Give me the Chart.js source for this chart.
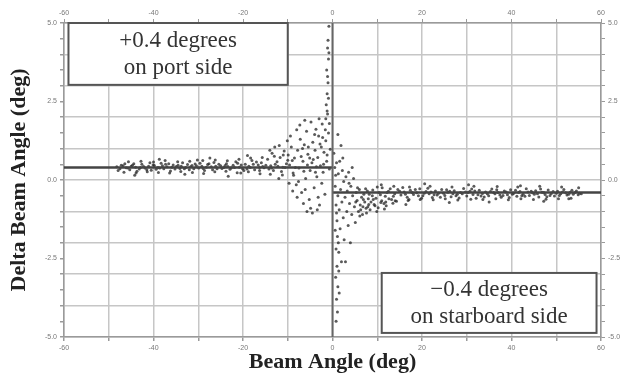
<!DOCTYPE html>
<html>
<head>
<meta charset="utf-8">
<script src="https://cdn.jsdelivr.net/npm/chart.js@4"></script>
<style>
    body { margin: 0; background: #fff; }
    canvas { display: block; }
</style>
</head>
<body>
<canvas id="beamChart" width="630" height="377"></canvas>
<script>
// --- Data ---

// port side: beam angle (deg), delta beam angle (deg)
const portBand = [
    [-48.2,0.42],[-47.5,0.36],[-46.8,0.45],[-46.1,0.39],[-45.3,0.33],[-44.7,0.47],[-44.0,0.41],[-43.2,0.35],
    [-42.6,0.50],[-41.9,0.38],[-41.1,0.44],[-40.5,0.31],[-39.8,0.46],[-39.0,0.40],[-38.3,0.53],[-37.7,0.36],
    [-37.0,0.42],[-36.2,0.29],[-35.6,0.48],[-34.9,0.43],[-34.1,0.37],[-33.5,0.55],[-32.8,0.40],[-32.0,0.33],
    [-31.4,0.46],[-30.7,0.51],[-29.9,0.38],[-29.2,0.44],[-28.6,0.30],[-27.9,0.49],[-27.1,0.42],[-26.5,0.56],
    [-25.8,0.36],[-25.0,0.45],[-24.3,0.40],[-23.7,0.52],[-22.9,0.34],[-22.2,0.47],[-21.6,0.58],[-20.8,0.41],
    [-20.1,0.36],[-19.5,0.50],[-18.7,0.44],[-18.0,0.62],[-17.4,0.33],[-16.6,0.48],[-15.9,0.55],[-15.3,0.39],
    [-14.5,0.66],[-13.8,0.45],[-13.2,0.30],[-12.4,0.58],[-11.7,0.72],[-11.1,0.41],[-10.3,0.52],
    [-47.9,0.30],[-46.4,0.52],[-45.0,0.44],[-43.7,0.28],[-42.2,0.43],[-40.8,0.55],[-39.4,0.34],[-38.0,0.45],
    [-36.6,0.52],[-35.2,0.35],[-33.8,0.44],[-32.4,0.49],[-31.0,0.36],[-29.6,0.53],[-28.2,0.41],[-26.8,0.33],
    [-25.4,0.50],[-24.0,0.46],[-22.6,0.39],[-21.2,0.53],[-19.8,0.30],[-18.4,0.40],[-17.0,0.57],[-15.6,0.43],
    [-14.2,0.35],[-12.8,0.50],[-11.4,0.27],[-10.0,0.63],
    [-47.2,0.47],[-45.7,0.38],[-44.4,0.52],[-42.9,0.40],[-41.5,0.33],[-40.1,0.48],[-38.6,0.38],[-37.3,0.50],
    [-35.9,0.41],[-34.5,0.47],[-33.1,0.36],[-31.7,0.42],[-30.4,0.45],[-28.9,0.37],[-27.6,0.52],[-26.1,0.44],
    [-24.7,0.37],[-23.4,0.43],[-21.9,0.40],[-20.4,0.48],[-19.1,0.35],[-17.7,0.50],[-16.3,0.40],[-14.9,0.47],
    [-13.6,0.38],[-12.2,0.44],[-10.6,0.40],
    [-46.6,0.25],[-43.9,0.22],[-41.4,0.26],[-38.9,0.24],[-36.4,0.22],[-33.9,0.27],[-31.3,0.24],[-28.8,0.21],
    [-26.3,0.26],[-23.8,0.28],[-21.3,0.23],[-18.8,0.26],[-16.3,0.30],[-13.9,0.18],[-11.2,0.16],
    [-45.6,0.58],[-42.8,0.60],[-40.0,0.57],[-37.4,0.62],[-34.6,0.58],[-31.9,0.60],[-29.0,0.62],[-26.2,0.64],
    [-23.5,0.61],[-20.9,0.66],[-18.3,0.70],[-15.7,0.72],[-13.0,0.76],[-11.0,0.80],
    [-44.2,0.15],[-38.7,0.66],[-33.0,0.18],[-27.4,0.70],[-23.3,0.12],[-19.0,0.78],[-16.2,0.20],[-13.5,0.85],
    [-12.0,0.05],[-10.8,0.92],[-20.5,0.22],[-30.2,0.64]
];

const portNear = [
    [-9.6,0.48],[-9.2,1.05],[-8.8,0.22],[-8.5,0.70],[-8.1,-0.15],[-7.8,0.95],[-7.5,0.38],[-7.2,1.30],
    [-6.9,-0.40],[-6.6,0.60],[-6.3,1.12],[-6.0,0.05],[-5.8,1.55],[-5.5,0.82],[-5.2,-0.62],[-5.0,0.30],
    [-4.8,1.85],[-4.6,0.55],[-4.4,1.20],[-4.1,-0.25],[-3.9,0.95],[-3.7,1.62],[-3.5,0.10],[-3.3,0.72],
    [-3.1,1.40],[-2.9,-0.80],[-2.7,0.45],[-2.5,1.05],[-2.3,1.78],[-2.1,0.25],[-1.9,0.88],[-1.7,-0.45],
    [-1.5,1.25],[-1.3,0.60],[-1.1,2.10],[-0.9,1.50],[-0.7,0.35],[-0.5,0.98],
    [-9.0,0.62],[-8.3,0.40],[-7.0,0.75],[-6.4,0.28],[-5.6,0.48],[-4.3,0.65],[-3.6,0.42],[-2.8,1.15],
    [-2.0,0.50],[-1.2,0.80],[-7.6,-0.05],[-6.1,-0.30],[-4.9,-0.90],[-3.2,-0.55],[-2.4,-0.10],[-5.4,1.05],
    [-4.0,1.45],[-3.0,1.95],[-2.2,1.35],[-1.6,1.60],[-9.9,0.80],[-8.7,0.15],[-6.7,1.00],[-5.1,0.70],[-3.8,0.25],
    [-14.0,0.95],[-12.9,1.05],[-11.9,1.10],[-10.1,1.25],[-9.4,1.40],[-8.0,1.60],[-7.3,1.75],[-6.2,1.90],
    [-9.7,-0.10],[-8.9,-0.35],[-7.9,-0.55],[-6.5,-0.75],[-5.7,-1.00],[-4.5,-1.05],[-3.4,-0.95],
    [-1.4,2.40],[-1.2,2.75],[-1.0,3.10],[-1.3,3.50],[-0.9,3.85],[-1.1,4.20],[-1.0,4.45],[-0.8,4.90],
    [-1.2,2.20],[-0.9,2.60],[-1.5,1.95],[-0.7,1.80],[-1.1,3.30],[-0.8,4.05]
];

// starboard side
const starBand = [
    [8.2,-0.45],[9.0,-0.32],[9.7,-0.58],[10.4,-0.40],[11.1,-0.25],[11.8,-0.52],[12.5,-0.36],[13.2,-0.62],
    [13.9,-0.44],[14.6,-0.30],[15.3,-0.48],[16.0,-0.38],[16.7,-0.55],[17.4,-0.33],[18.1,-0.46],[18.8,-0.41],
    [19.5,-0.28],[20.2,-0.50],[20.9,-0.37],[21.6,-0.44],[22.3,-0.56],[23.0,-0.35],[23.7,-0.42],[24.4,-0.30],
    [25.1,-0.49],[25.8,-0.39],[26.5,-0.53],[27.2,-0.34],[27.9,-0.45],[28.6,-0.40],[29.3,-0.27],[30.0,-0.51],
    [30.7,-0.36],[31.4,-0.46],[32.1,-0.58],[32.8,-0.33],[33.5,-0.43],[34.2,-0.38],[34.9,-0.50],[35.6,-0.29],
    [36.3,-0.44],[37.0,-0.40],[37.7,-0.55],[38.4,-0.35],[39.1,-0.47],[39.8,-0.31],[40.5,-0.42],[41.2,-0.52],
    [41.9,-0.37],[42.6,-0.45],[43.3,-0.28],[44.0,-0.49],[44.7,-0.41],[45.4,-0.34],[46.1,-0.54],[46.8,-0.39],
    [47.5,-0.46],[48.2,-0.32],[48.9,-0.43],[49.6,-0.51],[50.3,-0.36],[51.0,-0.44],[51.7,-0.30],[52.4,-0.48],
    [53.1,-0.39],[53.8,-0.45],[54.5,-0.35],[55.2,-0.42],
    [8.6,-0.70],[10.0,-0.22],[11.5,-0.75],[12.9,-0.28],[14.3,-0.68],[15.7,-0.24],[17.1,-0.62],[18.5,-0.30],
    [19.9,-0.58],[21.3,-0.26],[22.7,-0.47],[24.1,-0.55],[25.5,-0.31],[26.9,-0.44],[28.3,-0.57],[29.7,-0.38],
    [31.1,-0.29],[32.5,-0.47],[33.9,-0.54],[35.3,-0.37],[36.7,-0.31],[38.1,-0.49],[39.5,-0.56],[40.9,-0.33],
    [42.3,-0.50],[43.7,-0.38],[45.1,-0.45],[46.5,-0.29],[47.9,-0.53],[49.3,-0.37],[50.7,-0.49],[52.1,-0.41],
    [53.5,-0.33],[54.9,-0.47],
    [8.9,-0.50],[10.7,-0.47],[12.2,-0.40],[13.6,-0.52],[15.0,-0.36],[16.3,-0.45],[17.8,-0.40],[19.2,-0.50],
    [20.5,-0.42],[22.0,-0.38],[23.4,-0.48],[24.8,-0.42],[26.2,-0.36],[27.6,-0.50],[29.0,-0.44],[30.3,-0.40],
    [31.8,-0.35],[33.2,-0.51],[34.6,-0.44],[36.0,-0.40],[37.4,-0.48],[38.8,-0.38],[40.2,-0.45],[41.6,-0.40],
    [43.0,-0.52],[44.4,-0.36],[45.8,-0.44],[47.2,-0.40],[48.6,-0.49],[50.0,-0.42],[51.4,-0.38],[52.8,-0.45],
    [54.2,-0.40],[55.6,-0.44],
    [9.5,-0.82],[11.9,-0.70],[14.0,-0.66],[16.9,-0.65],[19.6,-0.62],[22.5,-0.63],[25.2,-0.60],[28.0,-0.64],
    [30.9,-0.61],[33.6,-0.62],[36.5,-0.60],[39.3,-0.63],[42.1,-0.60],[44.9,-0.62],[47.7,-0.61],[50.5,-0.60],
    [53.3,-0.58],
    [10.9,-0.15],[13.7,-0.20],[17.2,-0.22],[21.8,-0.20],[26.7,-0.22],[31.6,-0.20],[36.8,-0.21],[41.4,-0.22],
    [46.3,-0.20],[51.2,-0.22],[55.0,-0.25],
    [16.4,-0.78],[20.6,-0.12],[26.1,-0.72],[30.4,-0.15],[35.0,-0.70],[42.0,-0.18],[47.2,-0.68],[52.8,-0.60]
];

const starNear = [
    [0.3,0.85],[0.5,0.40],[0.6,-0.20],[0.8,-0.80],[0.7,0.15],[1.0,-1.30],[0.9,0.55],[1.2,-0.50],
    [1.1,-1.80],[1.3,0.20],[1.4,-2.30],[1.5,-0.95],[1.6,0.60],[1.7,-1.55],[1.8,-0.30],[2.0,-2.60],
    [2.1,-0.70],[2.2,0.30],[2.4,-1.20],[2.5,-0.05],[2.6,-1.90],[2.8,-0.55],[2.9,-2.60],[3.0,0.10],
    [3.2,-1.00],[3.3,-0.35],[3.5,-1.45],[3.6,0.25],[3.8,-0.75],[4.0,-2.00],[4.1,-0.20],[4.3,-1.10],
    [4.5,-0.50],[4.7,0.05],[4.9,-0.85],[5.1,-1.35],[5.3,-0.40],[5.5,-0.65],[5.8,-1.00],[6.0,-0.30],
    [6.2,-0.80],[6.5,-0.55],[6.7,-1.10],[7.0,-0.45],[7.2,-0.70],[7.5,-0.90],[7.8,-0.35],[8.0,-0.60],
    [5.6,-0.25],[6.3,-0.95],[6.9,-0.62],[7.4,-0.28],[7.9,-0.85],[8.4,-0.95],[9.3,-0.78],[10.2,-0.88],
    [11.0,-0.66],[12.0,-0.82],[13.5,-0.74],[2.3,0.70],[3.7,-0.10],[4.4,0.40],[1.9,1.10],[1.2,1.45],
    [6.8,-0.85],[8.1,-0.78],[9.1,-0.62],[9.9,-1.00],[10.8,-0.72],[11.6,-0.92],[12.6,-0.60],[5.2,-0.70],
    [6.1,-1.15],[7.6,-1.05],
    [0.8,-2.20],[1.0,-2.75],[0.7,-3.10],[1.2,-3.40],[0.9,-3.80],[1.1,-4.20],[0.8,-4.50],[1.4,-2.90],
    [0.6,-1.60],[1.5,-3.60],[0.9,-1.05],[1.3,-2.00]
];

// mean offsets
const portMean = [[-60, 0.4], [0, 0.4]];
const starMean = [[0, -0.4], [60, -0.4]];
const zeroLine = [[0, -5], [0, 5]];

// tick label steps
const X_LABEL_STEP = 20;
const Y_LABEL_STEP = 2.5;

const notes = [
    { lines: ['+0.4 degrees', 'on port side'], x0: -59, x1: -10, y0: 5.0, y1: 3.03 },
    { lines: ['\u22120.4 degrees', 'on starboard side'], x0: 11, x1: 59, y0: -2.96, y1: -4.87 }
];

// --- Helpers ---

const toXY = arr => arr.map(p => ({ x: p[0], y: p[1] }));
const isMult = (v, step) => Math.abs(v / step - Math.round(v / step)) < 1e-6;
const TICK_FONT = { family: 'Liberation Sans', size: 7 };
const TITLE_FONT = { family: 'Liberation Serif', size: 22, weight: 'bold' };
const GRID_GRAY = '#c6c6c6';
const AXIS_GRAY = '#9a9a9a';

function xTick(v) { return isMult(v, X_LABEL_STEP) ? String(v) : ''; }
function yTick(v) { return isMult(v, Y_LABEL_STEP) ? v.toFixed(1) : ''; }

// boxes with the two notes
const notesPlugin = {
    id: 'notes',
    afterDatasetsDraw(chart) {
        const ctx = chart.ctx;
        const xs = chart.scales.x, ys = chart.scales.y;
        ctx.save();
        notes.forEach(n => {
            const l = xs.getPixelForValue(n.x0), r = xs.getPixelForValue(n.x1);
            const t = ys.getPixelForValue(n.y0), b = ys.getPixelForValue(n.y1);
            ctx.fillStyle = '#fff';
            ctx.fillRect(l, t, r - l, b - t);
            ctx.strokeStyle = '#555';
            ctx.lineWidth = 2;
            ctx.strokeRect(l, t, r - l, b - t);
            ctx.fillStyle = '#333';
            ctx.font = '23px "Liberation Serif"';
            ctx.textAlign = 'center';
            ctx.textBaseline = 'middle';
            const cx = (l + r) / 2, cy = (t + b) / 2;
            ctx.fillText(n.lines[0], cx, cy - 13);
            ctx.fillText(n.lines[1], cx, cy + 14);
        });
        ctx.restore();
    }
};

const pointStyle = {
    showLine: false,
    pointRadius: 1.5,
    pointBorderWidth: 0,
    pointBackgroundColor: 'rgba(35,35,35,0.75)'
};

const lineStyle = {
    showLine: true,
    pointRadius: 0,
    borderColor: '#444',
    borderWidth: 2.5
};

new Chart(document.getElementById('beamChart'), {
    type: 'scatter',
    data: {
        datasets: [
            { data: toXY(zeroLine), ...lineStyle, borderColor: '#666', borderWidth: 2 },
            { data: toXY(portMean), ...lineStyle },
            { data: toXY(starMean), ...lineStyle },
            { data: toXY(portBand), ...pointStyle },
            { data: toXY(portNear), ...pointStyle },
            { data: toXY(starBand), ...pointStyle },
            { data: toXY(starNear), ...pointStyle }
        ]
    },
    options: {
        responsive: false,
        animation: false,
        devicePixelRatio: 1,
        layout: { padding: 0 },
        plugins: {
            legend: { display: false },
            tooltip: { enabled: false }
        },
        scales: {
            x: {
                position: 'bottom',
                min: -60, max: 60,
                ticks: { stepSize: 10, autoSkip: false, maxRotation: 0, font: TICK_FONT, color: '#777', padding: 3, callback: xTick },
                grid: { color: GRID_GRAY, lineWidth: 1.5, tickLength: 4, tickColor: AXIS_GRAY },
                border: { color: AXIS_GRAY, width: 1.5 },
                title: { display: true, text: 'Beam Angle (deg)', font: TITLE_FONT, color: '#222', padding: { top: 0, bottom: 1 } },
                afterFit: s => { s.height = 40; }
            },
            x2: {
                position: 'top',
                min: -60, max: 60,
                ticks: { stepSize: 10, autoSkip: false, maxRotation: 0, font: TICK_FONT, color: '#777', padding: 2, callback: xTick },
                grid: { drawOnChartArea: false, tickLength: 4, color: AXIS_GRAY },
                border: { color: AXIS_GRAY, width: 1.5 },
                afterFit: s => { s.height = 23; }
            },
            y: {
                position: 'left',
                min: -5, max: 5,
                ticks: { stepSize: 0.5, autoSkip: false, font: TICK_FONT, color: '#777', padding: 3, callback: yTick },
                grid: {
                    color: c => isMult(c.tick.value, 1) ? GRID_GRAY : 'rgba(0,0,0,0)',
                    lineWidth: 1.5,
                    tickLength: 4,
                    tickColor: AXIS_GRAY
                },
                border: { color: AXIS_GRAY, width: 1.5 },
                title: { display: true, text: 'Delta Beam Angle (deg)', font: TITLE_FONT, color: '#222', padding: { top: 6, bottom: 0 } },
                afterFit: s => { s.width = 64; }
            },
            y2: {
                position: 'right',
                min: -5, max: 5,
                ticks: { stepSize: 0.5, autoSkip: false, font: TICK_FONT, color: '#777', padding: 3, callback: yTick },
                grid: { drawOnChartArea: false, tickLength: 4, color: AXIS_GRAY },
                border: { color: AXIS_GRAY, width: 1.5 },
                afterFit: s => { s.width = 29; }
            }
        }
    },
    plugins: [notesPlugin]
});
</script>
</body>
</html>
